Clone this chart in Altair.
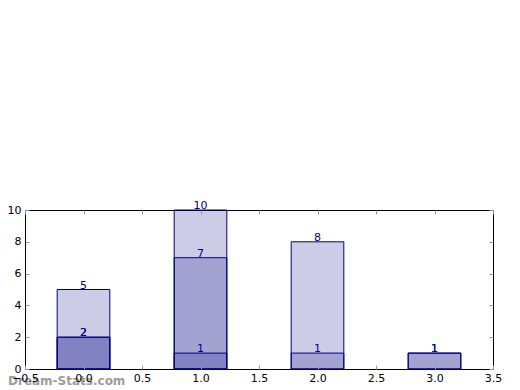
import altair as alt
import pandas as pd

cats = [0, 1, 2, 3]
series_a = [5, 10, 8, 1]
series_b = [2, 7, 1, 1]
series_c = [2, 1, 0, 0]
x_ticks = [-0.5, 0.0, 0.5, 1.0, 1.5, 2.0, 2.5, 3.0, 3.5]
y_ticks = [0, 2, 4, 6, 8, 10]
bar_width = 0.45
watermark = "Dream-Stats.com"

rows = []
for name, vals in (("a", series_a), ("b", series_b), ("c", series_c)):
    for c, v in zip(cats, vals):
        if v > 0:
            rows.append({"series": name, "cat": c, "value": v,
                         "x0": c - bar_width / 2, "x1": c + bar_width / 2})
df = pd.DataFrame(rows)

NAVY = "#000080"
FONT = "DejaVu Sans"

xscale = alt.Scale(domain=[-0.5, 3.5], nice=False, zero=False)
yscale = alt.Scale(domain=[0, 10], nice=False)

ax_common = dict(domain=False, grid=False, tickSize=4, tickColor="#999999",
                 tickWidth=1, zindex=1, labelFont=FONT, labelFontSize=11,
                 labelColor="black", offset=-4)

x_bottom = alt.Axis(orient="bottom", values=x_ticks, format=".1f",
                    labelPadding=3, labelFlush=False, title=None, **ax_common)
y_left = alt.Axis(orient="left", values=y_ticks, format="d",
                  labelPadding=4, labelFlush=False, title=None, **ax_common)
x_top = alt.Axis(orient="top", values=x_ticks, labels=False, title=None, **ax_common)
y_right = alt.Axis(orient="right", values=y_ticks, labels=False, title=None, **ax_common)

bars = alt.Chart(df).mark_bar(
    fill=NAVY, fillOpacity=0.2, stroke=NAVY, strokeOpacity=1, strokeWidth=1
).encode(
    x=alt.X("x0:Q", scale=xscale, axis=x_bottom),
    x2="x1:Q",
    y=alt.Y("value:Q", scale=yscale, axis=y_left),
    y2=alt.datum(0),
)

labels = alt.Chart(df).mark_text(
    color=NAVY, font=FONT, fontSize=11, baseline="alphabetic", align="center", dy=-1
).encode(
    x=alt.X("cat:Q", scale=xscale, axis=x_top),
    y=alt.Y("value:Q", scale=yscale, axis=y_right),
    text=alt.Text("value:Q", format="d"),
)

wm = alt.Chart(pd.DataFrame({"t": [watermark]})).mark_text(
    color="#8c8c8c", opacity=0.85, font=FONT, fontSize=12, fontWeight="bold",
    align="left", baseline="alphabetic"
).encode(
    x=alt.value(-17), y=alt.value(175), text="t:N"
)

chart = alt.layer(bars, labels, wm).resolve_axis(
    x="independent", y="independent"
).properties(
    width=468, height=159,
    autosize=alt.AutoSizeParams(type="none"),
    padding={"left": 17, "top": 202, "right": 15, "bottom": 18},
).configure_view(stroke="black", strokeWidth=1)

chart.save("out.html", embed_options={"renderer": "svg", "actions": False})
